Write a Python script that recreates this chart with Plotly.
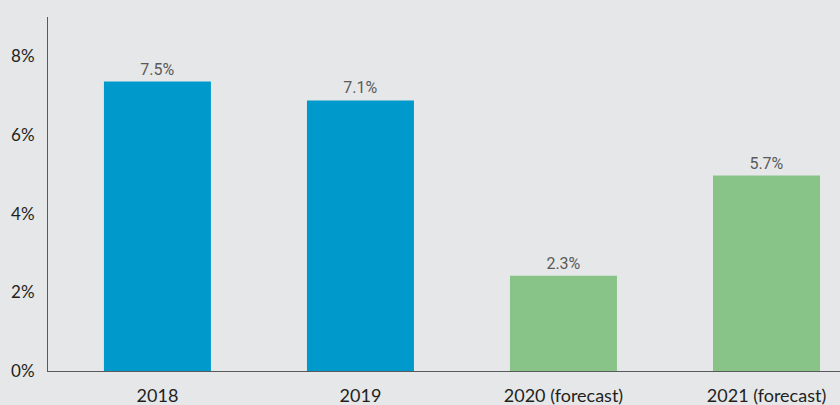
import plotly.graph_objects as go

categories = ["2018", "2019", "2020 (forecast)", "2021 (forecast)"]
# bar heights as drawn in the picture (%)
bar_heights = [7.36, 6.88, 2.42, 4.97]
# labels printed above the bars
bar_labels = ["7.5%", "7.1%", "2.3%", "5.7%"]
bar_colors = ["#0099cc", "#0099cc", "#88c488", "#88c488"]

y_ticks = [0, 2, 4, 6, 8]
y_tick_text = ["0%", "2%", "4%", "6%", "8%"]

BG = "#e6e7e9"

fig = go.Figure(go.Bar(
    x=categories,
    y=bar_heights,
    text=bar_labels,
    textposition="outside",
    textfont=dict(family="Roboto", size=16, color="#5a5a5a"),
    marker=dict(color=bar_colors, line=dict(width=0)),
    width=0.527,
    cliponaxis=False,
    hoverinfo="skip",
))

fig.update_layout(
    width=840,
    height=405,
    margin=dict(l=48, r=0, t=17, b=34, autoexpand=False),
    paper_bgcolor=BG,
    plot_bgcolor=BG,
    showlegend=False,
    font=dict(family="Lato", color="#231f20"),
)
fig.update_xaxes(
    range=[-0.539, 3.362],
    automargin=False,
    showgrid=False,
    showline=True,
    linecolor="#58595b",
    linewidth=1,
    ticks="",
    tickfont=dict(family="Lato", size=18, color="#231f20"),
    ticklabelstandoff=8,
)
fig.update_yaxes(
    range=[0, 9],
    automargin=False,
    tickvals=y_ticks,
    ticktext=y_tick_text,
    showgrid=False,
    zeroline=False,
    showline=True,
    linecolor="#58595b",
    linewidth=1,
    ticks="",
    tickfont=dict(family="Lato", size=17, color="#231f20"),
    ticklabelstandoff=9,
)

# page body has a default 8px margin; drop it so the chart fills the window
page_fix = (
    "document.body.style.margin='0';"
    "document.body.style.overflow='hidden';"
    "document.body.style.background='" + BG + "';"
)
fig.write_html("out.html", post_script=page_fix,
               config={"displayModeBar": False, "staticPlot": True})
